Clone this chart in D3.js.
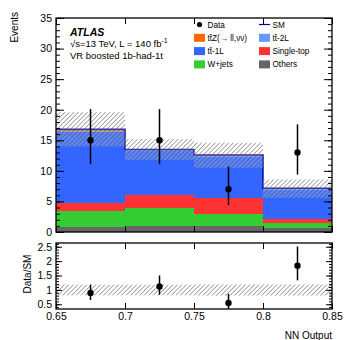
<!DOCTYPE html>
<html>
<head>
<meta charset="utf-8">
<script src="https://cdn.jsdelivr.net/npm/d3@7"></script>
<style>
  body { margin: 0; background: #fff; }
  svg { font-family: "Liberation Sans", Arial, Helvetica, sans-serif; }
</style>
</head>
<body>
<div id="chart"></div>
<script>
// bin edges in NN output
const edges = [0.65, 0.7, 0.75, 0.8, 0.85];

// stacked backgrounds, bottom to top
const others = [0.8, 0.9, 0.9, 0.6];
const wjets = [2.65, 3.1, 2.0, 0.8];
const singleTop = [1.25, 2.05, 2.7, 0.7];
const tt1L = [11.6, 7.15, 6.6, 4.8];
const tt2L = [0.3, 0.2, 0.3, 0.2];
const ttZ = [0.2, 0.1, 0.1, 0.05];

// SM uncertainty band
const bandLo = [14.0, 11.8, 10.5, 5.6];
const bandHi = [19.6, 15.2, 14.6, 8.6];

// data with error bars
const dataVals = [15, 15, 7, 13];
const dataLo = [11.1, 11.1, 4.4, 9.4];
const dataHi = [20.1, 20.1, 10.7, 17.6];

// ratio panel
const ratioVals = [0.895, 1.115, 0.545, 1.84];
const ratioLo = [0.65, 0.83, 0.3, 1.33];
const ratioHi = [1.185, 1.5, 0.86, 2.51];
const ratioBandLo = [0.81, 0.81, 0.8, 0.8];
const ratioBandHi = [1.18, 1.18, 1.19, 1.19];

const xTicks = [0.65, 0.7, 0.75, 0.8, 0.85];
const yTicks = [0, 5, 10, 15, 20, 25, 30, 35];
const rTicks = [0.5, 1, 1.5, 2, 2.5];

const series = [
    { key: "others", vals: others, color: "#666666" },
    { key: "wjets", vals: wjets, color: "#33cc33" },
    { key: "single", vals: singleTop, color: "#ff3333" },
    { key: "tt1L", vals: tt1L, color: "#3366ff" },
    { key: "tt2L", vals: tt2L, color: "#6699ff" },
    { key: "ttZ", vals: ttZ, color: "#ff6600" }
];

const W = 349, H = 340;
const left = 56, right = 332;
const mainTop = 18, mainBot = 232;
const ratTop = 243, ratBot = 309;

const svg = d3.select("#chart").append("svg")
    .attr("width", W).attr("height", H);

const defs = svg.append("defs");
const pat = defs.append("pattern")
    .attr("id", "hatch")
    .attr("patternUnits", "userSpaceOnUse")
    .attr("width", 3.2).attr("height", 3.2)
    .attr("patternTransform", "rotate(45)");
pat.append("rect").attr("width", 3.2).attr("height", 3.2)
    .attr("fill", "rgba(255,255,255,0.2)");
pat.append("line")
    .attr("x1", 0).attr("y1", 0).attr("x2", 0).attr("y2", 3.2)
    .attr("stroke", "#444").attr("stroke-width", 0.9);

const x = d3.scaleLinear().domain([0.65, 0.85]).range([left, right]);
const y = d3.scaleLinear().domain([0, 35]).range([mainBot, mainTop]);
const yr = d3.scaleLinear().domain([0.335, 2.63]).range([ratBot, ratTop]);

// build table for the stack
const rows = edges.slice(0, -1).map((e, i) => {
    const r = { i: i };
    series.forEach(s => { r[s.key] = s.vals[i]; });
    return r;
});
const stacked = d3.stack().keys(series.map(s => s.key))(rows);

const main = svg.append("g");

stacked.forEach((layer, k) => {
    main.append("g")
        .selectAll("rect")
        .data(layer)
        .join("rect")
        .attr("x", d => x(edges[d.data.i]))
        .attr("width", d => x(edges[d.data.i + 1]) - x(edges[d.data.i]))
        .attr("y", d => y(d[1]))
        .attr("height", d => y(d[0]) - y(d[1]))
        .attr("fill", series[k].color)
        .attr("shape-rendering", "crispEdges");
});

// SM outline
const totals = rows.map((r, i) => series.reduce((a, s) => a + s.vals[i], 0));
const stepPts = totals.map((t, i) => [edges[i], t]).concat([[edges[4], totals[3]]]);
main.append("path")
    .attr("d", d3.line().x(d => x(d[0])).y(d => y(d[1])).curve(d3.curveStepAfter)(stepPts))
    .attr("fill", "none")
    .attr("stroke", "#000099")
    .attr("stroke-width", 1.4);

// uncertainty band
main.append("g").selectAll("rect")
    .data(bandLo)
    .join("rect")
    .attr("x", (d, i) => x(edges[i]))
    .attr("width", (d, i) => x(edges[i + 1]) - x(edges[i]))
    .attr("y", (d, i) => y(bandHi[i]))
    .attr("height", (d, i) => y(d) - y(bandHi[i]))
    .attr("fill", "url(#hatch)");

// data points
const mids = edges.slice(0, -1).map((e, i) => (e + edges[i + 1]) / 2);
main.append("g").selectAll("line")
    .data(dataVals)
    .join("line")
    .attr("x1", (d, i) => x(mids[i])).attr("x2", (d, i) => x(mids[i]))
    .attr("y1", (d, i) => y(dataLo[i])).attr("y2", (d, i) => y(dataHi[i]))
    .attr("stroke", "#000").attr("stroke-width", 1.5);
main.append("g").selectAll("circle")
    .data(dataVals)
    .join("circle")
    .attr("cx", (d, i) => x(mids[i]))
    .attr("cy", d => y(d))
    .attr("r", 3.2)
    .attr("fill", "#000");

// ratio panel
const rat = svg.append("g");
rat.append("g").selectAll("rect")
    .data(ratioBandLo)
    .join("rect")
    .attr("x", (d, i) => x(edges[i]))
    .attr("width", (d, i) => x(edges[i + 1]) - x(edges[i]))
    .attr("y", (d, i) => yr(ratioBandHi[i]))
    .attr("height", (d, i) => yr(d) - yr(ratioBandHi[i]))
    .attr("fill", "url(#hatch)");
rat.append("g").selectAll("line")
    .data(ratioVals)
    .join("line")
    .attr("x1", (d, i) => x(mids[i])).attr("x2", (d, i) => x(mids[i]))
    .attr("y1", (d, i) => Math.min(yr(ratioLo[i]), ratBot)).attr("y2", (d, i) => yr(ratioHi[i]))
    .attr("stroke", "#000").attr("stroke-width", 1.5);
rat.append("g").selectAll("circle")
    .data(ratioVals)
    .join("circle")
    .attr("cx", (d, i) => x(mids[i]))
    .attr("cy", d => yr(d))
    .attr("r", 3.2)
    .attr("fill", "#000");

// axes, ticks point inward on all sides
function styleAxis(g) {
    g.select(".domain").remove();
    g.selectAll("line").attr("stroke", "#000");
    g.selectAll("text").attr("font-size", "10.5px").attr("fill", "#000");
}

function frameAxes(ys, top, bot, majors, minors, majLen, minLen, xLabels) {
    svg.append("g").attr("transform", `translate(${left},0)`)
        .call(d3.axisLeft(ys).tickValues(majors).tickSize(-majLen).tickPadding(4).tickFormat(d3.format("~g")))
        .call(styleAxis);
    svg.append("g").attr("transform", `translate(${left},0)`)
        .call(d3.axisLeft(ys).tickValues(minors).tickSize(-minLen).tickFormat(""))
        .call(styleAxis);
    svg.append("g").attr("transform", `translate(${right},0)`)
        .call(d3.axisRight(ys).tickValues(majors).tickSize(-majLen).tickFormat(""))
        .call(styleAxis);
    svg.append("g").attr("transform", `translate(${right},0)`)
        .call(d3.axisRight(ys).tickValues(minors).tickSize(-minLen).tickFormat(""))
        .call(styleAxis);
    svg.append("g").attr("transform", `translate(0,${bot})`)
        .call(d3.axisBottom(x).tickValues(xTicks).tickSize(-6).tickPadding(4)
            .tickFormat(xLabels ? d3.format("~g") : ""))
        .call(styleAxis);
    svg.append("g").attr("transform", `translate(0,${top})`)
        .call(d3.axisTop(x).tickValues(xTicks).tickSize(-6).tickFormat(""))
        .call(styleAxis);
    svg.append("rect")
        .attr("x", left).attr("y", top)
        .attr("width", right - left).attr("height", bot - top)
        .attr("fill", "none").attr("stroke", "#000").attr("stroke-width", 1.3);
}

frameAxes(y, mainTop, mainBot, yTicks, d3.range(0, 35.5, 1), 8, 4, false);
frameAxes(yr, ratTop, ratBot, rTicks, d3.range(0.4, 2.61, 0.1), 6, 3, true);

// axis titles
svg.append("text")
    .attr("transform", "translate(18,12) rotate(-90)")
    .attr("text-anchor", "end")
    .attr("font-size", "10px")
    .text("Events");
svg.append("text")
    .attr("transform", "translate(31,274) rotate(-90)")
    .attr("text-anchor", "middle")
    .attr("font-size", "10px")
    .text("Data/SM");
svg.append("text")
    .attr("x", right).attr("y", 339)
    .attr("text-anchor", "end")
    .attr("font-size", "10px")
    .text("NN Output");

// ATLAS label
svg.append("text")
    .attr("x", 70).attr("y", 35.5)
    .attr("font-size", "10.5px")
    .attr("font-weight", "bold")
    .attr("font-style", "italic")
    .text("ATLAS");
const lum = svg.append("text")
    .attr("x", 70).attr("y", 47)
    .attr("font-size", "9.5px");
lum.append("tspan").text("\u221As=13 TeV, L = 140 fb");
lum.append("tspan").attr("dy", -4).attr("font-size", "7px").text("-1");
svg.append("text")
    .attr("x", 70).attr("y", 58.5)
    .attr("font-size", "9.5px")
    .text("VR boosted 1b-had-1t");

// legend
const legend = [
    { label: "Data", type: "dot", col: 0, row: 0 },
    { label: "SM", type: "line", color: "#000099", col: 1, row: 0 },
    { label: "tt\u0304Z(\u2192 ll,\u03BD\u03BD)", type: "box", color: "#ff6600", col: 0, row: 1 },
    { label: "tt\u0304-2L", type: "box", color: "#6699ff", col: 1, row: 1 },
    { label: "tt\u0304-1L", type: "box", color: "#3366ff", col: 0, row: 2 },
    { label: "Single-top", type: "box", color: "#ff3333", col: 1, row: 2 },
    { label: "W+jets", type: "box", color: "#33cc33", col: 0, row: 3 },
    { label: "Others", type: "box", color: "#666666", col: 1, row: 3 }
];
const lg = svg.append("g").selectAll("g")
    .data(legend)
    .join("g")
    .attr("transform", d => `translate(${d.col ? 259 : 194},${24.5 + d.row * 13.3})`);
lg.filter(d => d.type === "box").append("rect")
    .attr("x", 0).attr("y", -4).attr("width", 11).attr("height", 8)
    .attr("fill", d => d.color);
lg.filter(d => d.type === "dot").append("circle")
    .attr("cx", 5.5).attr("cy", 0).attr("r", 2.6).attr("fill", "#000");
lg.filter(d => d.type === "line").append("line")
    .attr("x1", 0).attr("x2", 11).attr("y1", 0).attr("y2", 0)
    .attr("stroke", d => d.color).attr("stroke-width", 1.2);
lg.append("text")
    .attr("x", 13.5).attr("y", 3)
    .attr("font-size", "8.2px")
    .text(d => d.label);
</script>
</body>
</html>
